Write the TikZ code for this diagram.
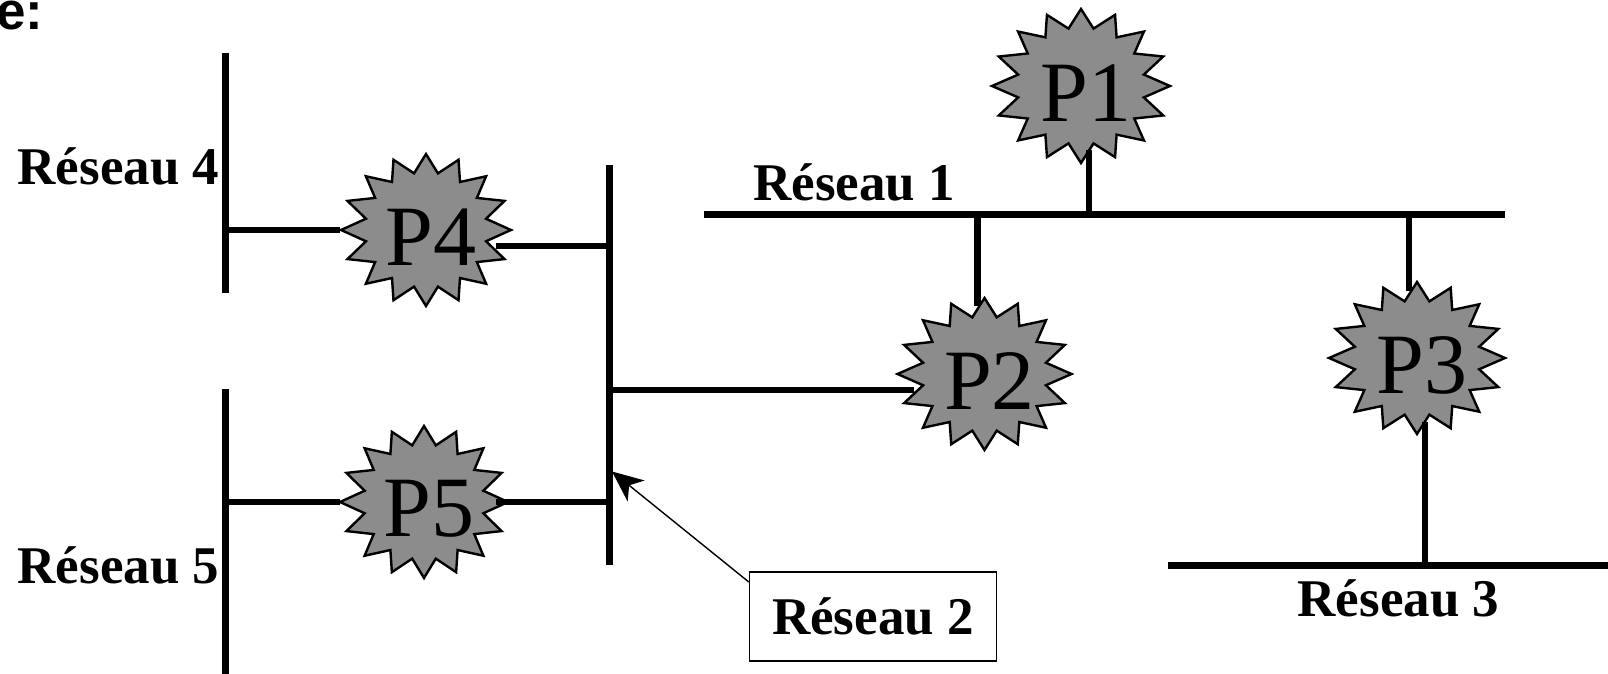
\documentclass[tikz,border=0pt]{standalone}
\usepackage{fontspec}
\setmainfont{Liberation Serif}
\newfontfamily\hvb{Liberation Sans}[BoldFont={Liberation Sans Bold}]
\usetikzlibrary{arrows.meta}
\definecolor{burstgray}{HTML}{8C8C8C}
\tikzset{
  x=1pt,y=-1pt,
  bus/.style={line width=7pt,black},
  link/.style={line width=6.5pt,black},
  burst/.style={fill=burstgray,draw=black,line width=2.4pt,line join=miter,miter limit=3},
  plabel/.style={inner sep=0pt,font=\fontsize{86}{90}\selectfont,text=black},
  netlabel/.style={inner sep=0pt,anchor=base west,font=\fontsize{53}{60}\selectfont\bfseries},
  callout/.style={draw=black,line width=1.4pt,inner sep=0pt,minimum width=247pt,minimum height=89pt,font=\fontsize{53}{60}\selectfont\bfseries},
  pointer/.style={line width=1.4pt,-{Stealth[length=31pt,width=27pt,inset=9pt]}},
}
\newcommand{\burstnode}[5]{% name, x, y, rx, ry
  \path[burst] plot[samples at={0,1,...,31},variable=\k]
    ({#2+(mod(\k,2)==0 ? #4 : #4*0.72)*sin(\k*11.25)},{#3-(mod(\k,2)==0 ? #5 : #5*0.76)*cos(\k*11.25)}) -- cycle;
  \node[plabel] (#1) at (#2+5,#3+7) {#1};
}
\begin{document}
\begin{tikzpicture}
\useasboundingbox (0,0) rectangle (1608,674);
% stars
\burstnode{P1}{1081}{86}{89}{77}
\burstnode{P2}{984.5}{374}{87}{76}
\burstnode{P3}{1417}{358}{88}{76}
\burstnode{P4}{426}{230}{85}{76}
\burstnode{P5}{424}{502}{84}{76}
% end points
\coordinate (b4a) at (225,53);   \coordinate (b4b) at (225,293);
\coordinate (b5a) at (225,389);  \coordinate (b5b) at (225,674);
\coordinate (b2a) at (609.5,165);  \coordinate (b2b) at (609.5,565);
\coordinate (b1a) at (704,214.5);\coordinate (b1b) at (1505,214.5);
\coordinate (b3a) at (1168,565.5); \coordinate (b3b) at (1608,565.5);
\coordinate (p1b) at (1089,214.5); \coordinate (p1e) at (1089,150);
\coordinate (p2b) at (977.5,214.5);  \coordinate (p2e) at (977.5,306);
\coordinate (p3b) at (1409,214.5); \coordinate (p3e) at (1409,291);
\coordinate (p3c) at (1425,565.5);   \coordinate (p3f) at (1425,422);
\coordinate (p2c) at (609.5,390);    \coordinate (p2f) at (914,390);
\coordinate (p4c) at (225,230);    \coordinate (p4e) at (340,230);
\coordinate (p4d) at (609.5,246);    \coordinate (p4f) at (496,246);
\coordinate (p5c) at (225,502);    \coordinate (p5e) at (340,502);
\coordinate (p5d) at (609.5,502);    \coordinate (p5f) at (496,502);
% buses
\draw[bus] (b4a) -- (b4b);
\draw[bus] (b5a) -- (b5b);
\draw[bus] (b2a) -- (b2b);
\draw[bus] (b1a) -- (b1b);
\draw[bus] (b3a) -- (b3b);
% links
\draw[link] (p1b) -- (p1e);
\draw[link] (p2b) -- (p2e);
\draw[link] (p3b) -- (p3e);
\draw[link] (p3c) -- (p3f);
\draw[link] (p2c) -- (p2f);
\draw[link] (p4c) -- (p4e);
\draw[link] (p4d) -- (p4f);
\draw[link] (p5c) -- (p5e);
\draw[link] (p5d) -- (p5f);
% labels
\node[inner sep=0pt,anchor=base west,font=\hvb\bfseries\fontsize{53}{60}\selectfont] (head) at (-4,30) {e:};
\node[netlabel] (r4) at (17.5,184) {Réseau 4};
\node[netlabel] (r1) at (753,200.5) {Réseau 1};
\node[netlabel] (r5) at (17.5,583) {Réseau 5};
\node[netlabel] (r3) at (1297.5,616.5) {Réseau 3};
\node[callout] (r2) at (873,616.5) {Réseau 2};
\coordinate (b2p) at (612,471.5);
\draw[pointer] (r2.north west |- 750,582) -- (b2p);
\end{tikzpicture}
\end{document}
